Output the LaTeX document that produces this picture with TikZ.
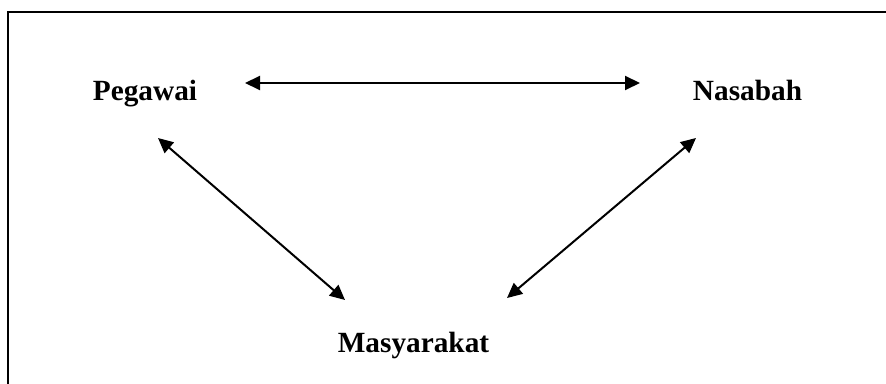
\documentclass[tikz,border=0pt]{standalone}
\usepackage{fontspec}
\setmainfont{Liberation Serif}
\usepackage{tikz}
\usetikzlibrary{arrows.meta,calc}
\tikzset{
    %Define standard arrow tip
    >={Triangle[length=15pt,width=14pt]},
    %Define style for labels
    party/.style={
           font=\fontsize{29.3}{34}\selectfont\bfseries,
           inner sep=0pt,
           anchor=base},
    % Define arrow style
    pil/.style={
           <->,
           line width=2pt}
}
\begin{document}
\begin{tikzpicture}[x=1pt,y=1pt]
\useasboundingbox (0,0) rectangle (886,383);
 %frame
\draw[line width=2pt] (8,-5) -- (8,371) -- (895,371);
 %nodes
\node[party] (peg) at (145,282) {Pegawai};
\node[party] (nas) at (747.5,282) {Nasabah};
\node[party] (mas) at (413.5,31) {Masyarakat};
 \path[pil]
    ($(peg.base)+(100,18)$) edge ($(nas.base)+(-107.5,18)$)
    ($(peg.base)+(13,-37)$) edge ($(mas.base)+(-68.5,52)$)
    ($(mas.base)+(93.5,54)$) edge ($(nas.base)+(-51.5,-37)$);
\end{tikzpicture}
\end{document}
